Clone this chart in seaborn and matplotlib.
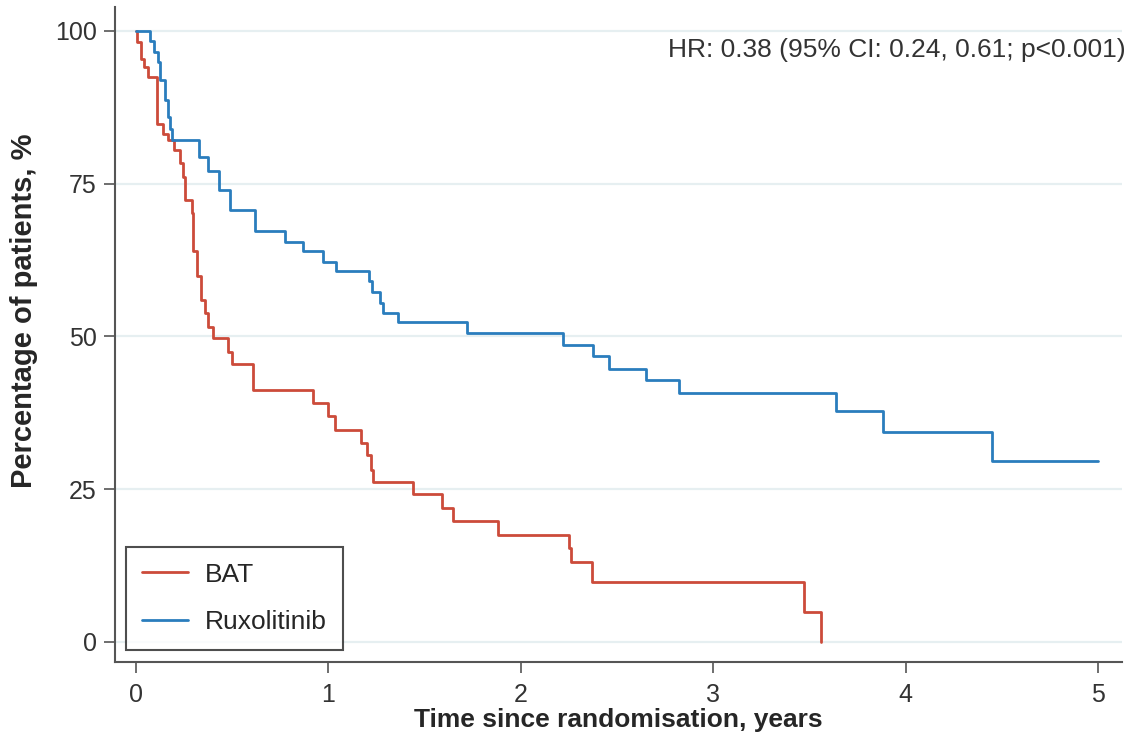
"""
Kaplan-Meier: BAT vs Ruxolitinib
"""
import numpy as np
import pandas as pd
import matplotlib
matplotlib.use('Agg')
import matplotlib.pyplot as plt
import seaborn as sns

# Datos (tiempo en años, % de pacientes)
bat_time = [0, 0.005, 0.03, 0.045, 0.066, 0.11, 0.14, 0.166, 0.2, 0.23,
            0.245, 0.255, 0.29, 0.295, 0.30, 0.32, 0.34, 0.36, 0.375, 0.40,
            0.48, 0.50, 0.61, 0.92, 1.0, 1.035, 1.17, 1.2, 1.22, 1.23,
            1.44, 1.59, 1.65, 1.88, 2.25, 2.26, 2.37, 3.47, 3.56]
bat_surv = [100, 98.1, 95.4, 94.1, 92.4, 84.8, 83.1, 82.1, 80.5, 78.4,
            76.0, 72.3, 70.2, 67.5, 63.9, 59.8, 56.0, 53.8, 51.6, 49.7,
            47.5, 45.5, 41.2, 39.1, 37.0, 34.7, 32.6, 30.6, 28.2, 26.2,
            24.2, 21.9, 19.7, 17.5, 15.3, 13.1, 9.8, 4.9, 0]

rux_time = [0, 0.076, 0.097, 0.114, 0.126, 0.15, 0.166, 0.18, 0.19, 0.33,
            0.375, 0.43, 0.49, 0.62, 0.775, 0.87, 0.975, 1.04, 1.21, 1.225,
            1.27, 1.285, 1.36, 1.72, 2.22, 2.375, 2.46, 2.65, 2.82, 3.64,
            3.88, 4.45, 5.0]
rux_surv = [100, 98.4, 96.5, 94.9, 91.9, 88.6, 85.9, 84.0, 82.1, 79.4,
            77.0, 74.0, 70.6, 67.3, 65.5, 63.9, 62.2, 60.7, 59.0, 57.3,
            55.5, 53.9, 52.4, 50.5, 48.6, 46.7, 44.7, 42.9, 40.75, 37.8,
            34.4, 29.6, 29.6]

groups = ['BAT', 'Ruxolitinib']
colors = {'BAT': '#cc4b3a', 'Ruxolitinib': '#2a7dbd'}
x_ticks = [0, 1, 2, 3, 4, 5]
y_ticks = [0, 25, 50, 75, 100]
hr_text = 'HR: 0.38 (95% CI: 0.24, 0.61; p<0.001)'

df = pd.concat([
    pd.DataFrame({'time': bat_time, 'surv': bat_surv, 'group': 'BAT'}),
    pd.DataFrame({'time': rux_time, 'surv': rux_surv, 'group': 'Ruxolitinib'}),
], ignore_index=True)

sns.set_theme(style='white')
plt.rcParams['font.family'] = ['Liberation Sans', 'DejaVu Sans']

fig = plt.figure(figsize=(11.36, 7.38), dpi=100)
ax = fig.add_axes([0.101, 0.103, 0.887, 0.8875])

sns.lineplot(data=df, x='time', y='surv', hue='group', hue_order=groups,
             palette=colors, drawstyle='steps-post', estimator=None,
             linewidth=2.0, ax=ax)

ax.set_xlim(-0.109, 5.125)
ax.set_ylim(-3.3, 103.9)
ax.set_xticks(x_ticks)
ax.set_yticks(y_ticks)
ax.yaxis.grid(True, color='#e6eff1', linewidth=1.6)
ax.xaxis.grid(False)
ax.set_axisbelow(True)

for s in ['top', 'right']:
    ax.spines[s].set_visible(False)
for s in ['left', 'bottom']:
    ax.spines[s].set_color('#555555')
    ax.spines[s].set_linewidth(1.5)

ax.tick_params(axis='both', direction='out', length=8, width=1.2,
               color='#555555', labelcolor='#333333', labelsize=18,
               bottom=True, left=True)
ax.tick_params(axis='x', pad=7)
ax.tick_params(axis='y', pad=5)

ax.set_xlabel('Time since randomisation, years', fontsize=19,
              fontweight='bold', labelpad=1)
ax.set_ylabel('Percentage of patients, %', fontsize=21,
              fontweight='bold')
ax.yaxis.set_label_coords(-0.076, 0.537)

ax.text(1.003, 0.934, hr_text, transform=ax.transAxes, ha='right',
        va='center', fontsize=19, color='#333333')

handles, labels = ax.get_legend_handles_labels()
leg = ax.legend(handles, labels, loc='lower left',
                bbox_to_anchor=(0.011, 0.018), borderaxespad=0,
                fontsize=19, frameon=True, fancybox=False,
                handlelength=1.75, handletextpad=0.65, labelspacing=0.9,
                borderpad=0.6, title=None)
leg.get_frame().set_edgecolor('#222222')
leg.get_frame().set_linewidth(1.5)

plt.savefig('out.png', dpi=100)
